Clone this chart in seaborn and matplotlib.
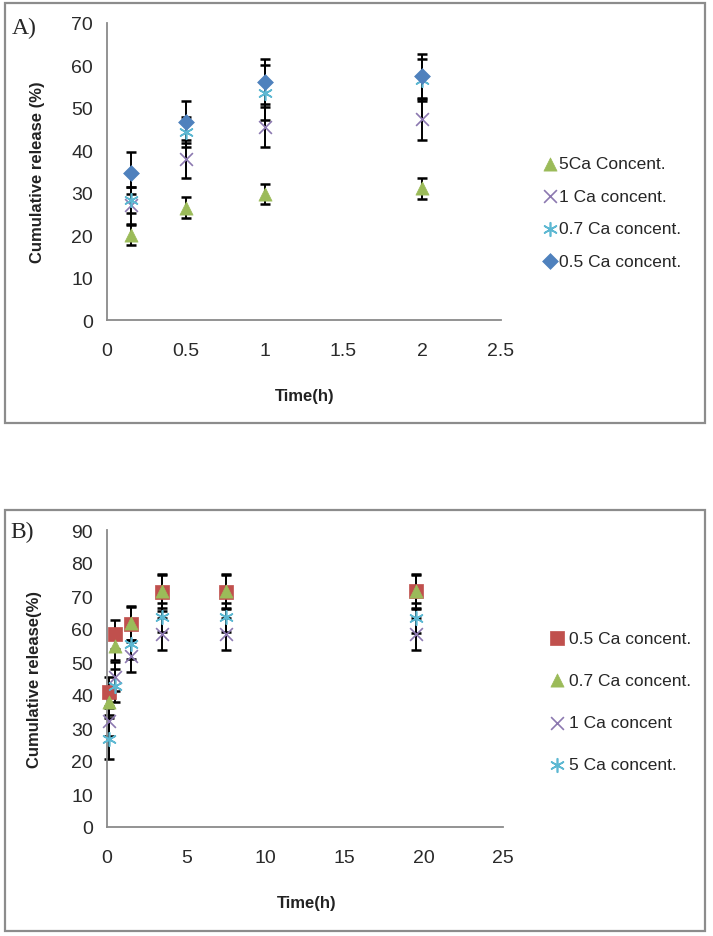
import matplotlib
matplotlib.use("Agg")
import matplotlib.pyplot as plt
import seaborn as sns
import pandas as pd
from matplotlib.patches import Rectangle

# ---------------- data ----------------
# Panel A
time_a = [0.15, 0.5, 1.0, 2.0]
a_labels = ["5Ca Concent.", "1 Ca concent.", "0.7 Ca concent.", "0.5 Ca concent."]
a_5 = [20.0, 26.5, 29.7, 31.0]
a_5_err = [2.3, 2.4, 2.4, 2.4]
a_1 = [27.0, 38.0, 45.4, 47.4]
a_1_err = [4.3, 4.5, 4.7, 5.0]
a_07 = [28.3, 44.3, 53.6, 56.5]
a_07_err = [3.0, 3.6, 6.5, 5.0]
a_05 = [34.7, 46.7, 56.2, 57.4]
a_05_err = [5.0, 5.0, 5.4, 5.3]

# Panel B
time_b = [0.15, 0.5, 1.5, 3.5, 7.5, 19.5]
b_labels = ["0.5 Ca concent.", "0.7 Ca concent.", "1 Ca concent", "5 Ca concent."]
b_05 = [40.8, 58.4, 61.5, 71.1, 71.3, 71.4]
b_05_err = [4.8, 4.4, 5.4, 5.5, 5.3, 5.2]
b_07 = [37.8, 55.0, 61.8, 71.5, 71.5, 71.5]
b_07_err = [4.0, 4.5, 5.0, 5.0, 5.0, 5.0]
b_1 = [32.2, 45.6, 51.9, 58.5, 58.5, 58.5]
b_1_err = [4.5, 4.5, 4.8, 4.8, 4.8, 4.8]
b_5 = [26.8, 42.8, 55.5, 63.5, 63.5, 63.3]
b_5_err = [6.3, 5.0, 4.5, 4.5, 4.5, 4.5]

# ---------------- style ----------------
sns.set_style("white")
plt.rcParams["font.family"] = ["Liberation Sans", "DejaVu Sans"]

BLUE = "#4F81BD"
RED = "#C0504D"
GREEN = "#9BBB59"
PURPLE = "#8C78B0"
CYAN = "#5DB8D2"
AXC = "#8a8a8a"
ASTER = (6, 2, 0)

fig = plt.figure(figsize=(7.13, 9.37), dpi=100)

# panel frames
for (x0, y0, x1, y1) in [(5, 4, 705, 424), (5, 511, 705, 932)]:
    fig.patches.append(Rectangle((x0 / 713, 1 - y1 / 937), (x1 - x0) / 713, (y1 - y0) / 937,
                                 transform=fig.transFigure, fill=False,
                                 edgecolor="#8c8c8c", linewidth=1.6))

axA = fig.add_axes([107 / 713, 1 - 321 / 937, (501 - 107) / 713, (321 - 24) / 937])
axB = fig.add_axes([107 / 713, 1 - 828 / 937, (503 - 107) / 713, (828 - 531) / 937])


def draw_series(ax, t, y, err, label, color, marker, size, filled=True):
    df = pd.DataFrame({"time": t, "release": y})
    ax.errorbar(t, y, yerr=err, fmt="none", ecolor="black", elinewidth=1.4,
                capsize=3.5, capthick=1.8, zorder=2, clip_on=False)
    kw = dict(data=df, x="time", y="release", ax=ax, marker=marker, s=size,
              color=color, label=label, zorder=3, clip_on=False)
    if filled:
        kw.update(edgecolor=color, linewidth=0.5)
    else:
        kw.update(linewidth=1.2)
    sns.scatterplot(**kw)


# Panel A series (legend order = draw order)
draw_series(axA, time_a, a_5, a_5_err, a_labels[0], GREEN, "^", 90)
draw_series(axA, time_a, a_1, a_1_err, a_labels[1], PURPLE, "x", 85, filled=False)
draw_series(axA, time_a, a_07, a_07_err, a_labels[2], CYAN, ASTER, 95, filled=False)
draw_series(axA, time_a, a_05, a_05_err, a_labels[3], BLUE, "D", 65)

# Panel B series
draw_series(axB, time_b, b_05, b_05_err, b_labels[0], RED, "s", 105)
draw_series(axB, time_b, b_07, b_07_err, b_labels[1], GREEN, "^", 90)
draw_series(axB, time_b, b_1, b_1_err, b_labels[2], PURPLE, "x", 85, filled=False)
draw_series(axB, time_b, b_5, b_5_err, b_labels[3], CYAN, ASTER, 95, filled=False)


def style_axis(ax, xlim, xticks, ylim, yticks, ylabel, ylab_x, xlab_y):
    ax.set_xlim(*xlim)
    ax.set_ylim(*ylim)
    ax.set_xticks(xticks)
    ax.set_yticks(yticks)
    ax.set_xticklabels([("%g" % v) for v in xticks])
    ax.set_yticklabels([("%g" % v) for v in yticks])
    for s in ["top", "right"]:
        ax.spines[s].set_visible(False)
    for s in ["left", "bottom"]:
        ax.spines[s].set_color(AXC)
        ax.spines[s].set_linewidth(1.3)
    ax.tick_params(axis="both", which="major", direction="out", length=5,
                   width=1.2, color=AXC, labelsize=14, labelcolor="#2a2a2a")
    ax.tick_params(axis="x", pad=11)
    ax.tick_params(axis="y", pad=5)
    ax.set_ylabel(ylabel, fontsize=12, fontweight="bold", color="#222222")
    ax.set_xlabel("Time(h)", fontsize=12, fontweight="bold", color="#222222")
    ax.yaxis.set_label_coords(ylab_x, 0.5)
    ax.xaxis.set_label_coords(0.503, xlab_y)
    ax.set_facecolor("white")


style_axis(axA, (0, 2.5), [0, 0.5, 1, 1.5, 2, 2.5], (0, 70), list(range(0, 71, 10)),
           "Cumulative release (%)", -0.157, -0.229)
style_axis(axB, (0, 25), [0, 5, 10, 15, 20, 25], (0, 90), list(range(0, 91, 10)),
           "Cumulative release(%)", -0.164, -0.229)

# legends
legA = axA.legend(loc="center left", bbox_to_anchor=(543 / 713, 1 - 213.5 / 937),
                  bbox_transform=fig.transFigure, frameon=False, fontsize=12.5,
                  handlelength=0.8, handletextpad=0.15, labelspacing=1.0,
                  borderpad=0, borderaxespad=0)
legB = axB.legend(loc="center left", bbox_to_anchor=(550 / 713, 1 - 702.5 / 937),
                  bbox_transform=fig.transFigure, frameon=False, fontsize=12.5,
                  handlelength=0.8, handletextpad=0.3, labelspacing=1.55,
                  borderpad=0, borderaxespad=0)

# panel letters
fig.text(12 / 713, 1 - 28 / 937, "A)", fontsize=17, family=["Liberation Serif", "DejaVu Serif"],
         va="center", ha="left")
fig.text(10 / 713, 1 - 532 / 937, "B)", fontsize=17, family=["Liberation Serif", "DejaVu Serif"],
         va="center", ha="left")

fig.savefig("out.png", dpi=100, facecolor="white")
